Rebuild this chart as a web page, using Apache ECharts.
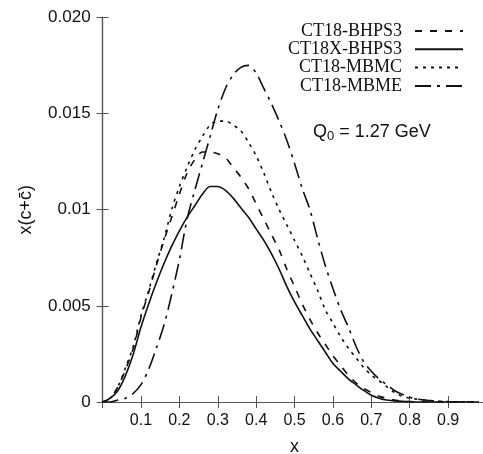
<!DOCTYPE html>
<html>
<head>
<meta charset="utf-8">
<script src="https://cdn.jsdelivr.net/npm/echarts@6/dist/echarts.min.js"></script>
<style>html,body{margin:0;padding:0;background:#fff}#c{width:483px;height:454px}</style>
</head>
<body>
<div id="c"></div>
<script>
const xs = [0,0.02,0.04,0.06,0.08,0.10,0.12,0.14,0.16,0.18,0.20,0.22,0.24,0.26,0.28,0.30,0.32,0.34,0.36,0.38,0.40,0.42,0.44,0.46,0.48,0.50,0.52,0.54,0.56,0.58,0.60,0.62,0.64,0.66,0.68,0.70,0.72,0.74,0.76,0.78,0.80,0.82,0.84,0.86,0.88,0.90,0.92,0.94,0.96,0.98];
const bhps3 = [0,0.0002,0.0008,0.0017,0.0028,0.0044,0.0057,0.0071,0.0084,0.0096,0.0108,0.0119,0.0126,0.0130,0.0130,0.0129,0.0127,0.0122,0.0117,0.0111,0.0103,0.0095,0.0087,0.0079,0.0069,0.0060,0.0051,0.0043,0.0036,0.0030,0.0024,0.0019,0.0014,0.0010,0.0007,0.0005,0.0003,0.0002,0.0001,0.00005,0.00002,0,0,0,0,0,0,0,0,0];
const xbhps3 = [0,0.0002,0.0006,0.0014,0.0025,0.0039,0.0051,0.0062,0.0072,0.0081,0.0089,0.0096,0.0102,0.0108,0.0112,0.0112,0.0110,0.0106,0.0101,0.0096,0.0090,0.0084,0.0077,0.0069,0.0060,0.0052,0.0045,0.0038,0.0032,0.0026,0.0020,0.0016,0.0012,0.0009,0.0006,0.00035,0.0002,0.0001,0.00006,0.00003,0.00001,0,0,0,0,0,0,0,0,0];
const mbmc = [0,0.0002,0.0008,0.0018,0.0029,0.0045,0.0058,0.0072,0.0085,0.0100,0.0112,0.0122,0.0131,0.0138,0.0144,0.0146,0.0146,0.0144,0.0141,0.0135,0.0128,0.0119,0.0109,0.0100,0.0092,0.0084,0.0076,0.0067,0.0058,0.0048,0.0041,0.0034,0.0028,0.0023,0.0018,0.0014,0.0011,0.0008,0.0005,0.0003,0.0002,0.00015,0.0001,0.00006,0.00004,0.00002,0.00001,0,0,0];
const mbme = [0,0,0.0001,0.0002,0.00045,0.0009,0.0017,0.0028,0.0040,0.0056,0.0074,0.0095,0.0110,0.0124,0.0138,0.0152,0.0163,0.0170,0.0174,0.0175,0.0171,0.0163,0.0155,0.0146,0.0136,0.0124,0.0111,0.0100,0.0085,0.0071,0.0059,0.0048,0.0039,0.0029,0.0021,0.0016,0.0012,0.0009,0.0006,0.0004,0.00025,0.00015,0.0001,0.00006,0.00003,0.00001,0,0,0,0];
const seriesNames = ['CT18-BHPS3','CT18X-BHPS3','CT18-MBMC','CT18-MBME'];
const xTicks = [0.1,0.2,0.3,0.4,0.5,0.6,0.7,0.8,0.9];
const xTickLabels = ['0.1','0.2','0.3','0.4','0.5','0.6','0.7','0.8','0.9'];
const yTicks = [0,0.005,0.01,0.015,0.02];
const yTickLabels = ['0','0.005','0.01','0.015','0.020'];

const pair = ys => xs.map((x,i)=>[x, ys[i]]);
const fmtX = v => { const i = xTicks.findIndex(t=>Math.abs(t-v)<1e-9); return i>=0 ? xTickLabels[i] : ''; };
const fmtY = v => { const i = yTicks.findIndex(t=>Math.abs(t-v)<1e-9); return i>=0 ? yTickLabels[i] : ''; };

const sans = 'Liberation Sans, Arial, sans-serif';
const serif = 'Liberation Serif, Times New Roman, serif';
const axisColor = '#555';
const ink = '#111';

const chart = echarts.init(document.getElementById('c'), null, {renderer:'canvas'});
const styles = [
  {type:[7,8], width:1.6},
  {type:'solid', width:1.6},
  {type:[3,5], width:1.6},
  {type:[16,6,3,6], width:1.6}
];
const datas = [bhps3, xbhps3, mbmc, mbme];
chart.setOption({
  animation:false,
  backgroundColor:'#fff',
  grid:{left:102.6, right:-3.5, top:17.3, bottom:52, outerBoundsMode:'none', containLabel:false},
  legend:{
    orient:'vertical', align:'right', right:19, top:22, padding:0,
    itemWidth:48, itemHeight:12, itemGap:0.3,
    itemStyle:{opacity:0},
    textStyle:{fontFamily:serif, fontSize:18, lineHeight:18, color:ink, padding:[0,8,0,0]},
    data:seriesNames
  },
  xAxis:[{
    type:'value', min:0, max:1, interval:0.1,
    name:'x', nameLocation:'middle', nameGap:36,
    nameTextStyle:{fontFamily:sans, fontSize:18, color:ink},
    axisLine:{lineStyle:{color:axisColor, width:1.2}},
    axisTick:{inside:true, length:6, lineStyle:{color:axisColor}},
    axisLabel:{formatter:fmtX, fontFamily:sans, fontSize:16, color:ink, margin:11, showMinLabel:false, showMaxLabel:false},
    splitLine:{show:false}
  },{
    type:'value', min:0, max:1, interval:0.1, position:'top',
    axisLine:{lineStyle:{color:axisColor, width:1.2}},
    axisTick:{inside:true, length:6, lineStyle:{color:axisColor}},
    axisLabel:{show:false}, splitLine:{show:false}
  }],
  yAxis:[{
    type:'value', min:0, max:0.02, interval:0.005,
    name:'x(c+c\u0304)', nameLocation:'middle', nameGap:68, nameRotate:90,
    nameTextStyle:{fontFamily:sans, fontSize:18, color:ink},
    axisLine:{show:true, lineStyle:{color:axisColor, width:1.2}},
    axisTick:{show:true, inside:true, length:6, lineStyle:{color:axisColor}},
    axisLabel:{formatter:fmtY, fontFamily:sans, fontSize:17, color:ink, margin:12},
    splitLine:{show:false}
  },{
    type:'value', min:0, max:0.02, interval:0.005, position:'right',
    axisLine:{show:true, lineStyle:{color:axisColor, width:1.2}},
    axisTick:{show:true, inside:true, length:6, lineStyle:{color:axisColor}},
    axisLabel:{show:false}, splitLine:{show:false}
  }],
  graphic:[{
    type:'text', left:313, top:123,
    style:{
      text:'Q{sub|0} = 1.27 GeV',
      rich:{sub:{fontSize:13, verticalAlign:'bottom', padding:[8,0,0,0], fontFamily:sans, fill:ink}},
      fontFamily:sans, fontSize:18, fill:ink
    }
  }],
  series: seriesNames.map((n,i)=>({
    name:n, type:'line', data:pair(datas[i]), xAxisIndex:0, yAxisIndex:0,
    symbol:'none', smooth:0.3, color:ink,
    lineStyle:{color:ink, width:styles[i].width, type:styles[i].type}
  }))
});
</script>
</body>
</html>
